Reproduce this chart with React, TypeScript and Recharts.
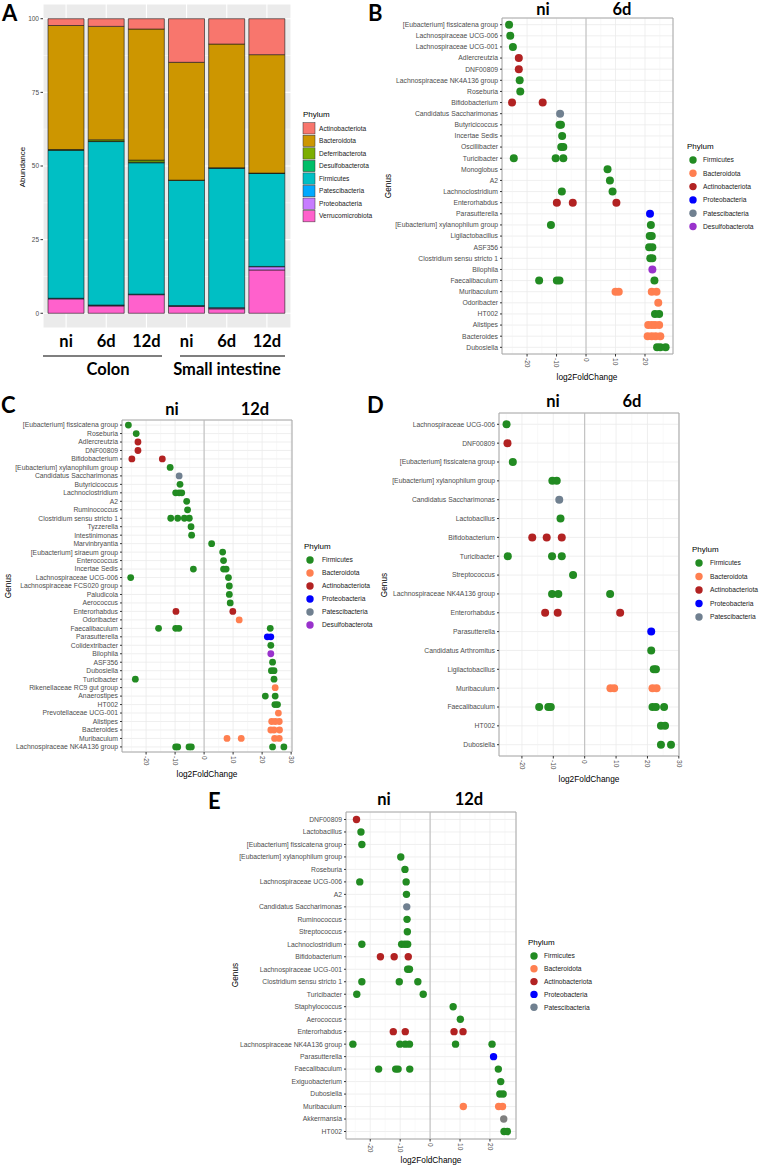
import { BarChart, Bar, XAxis, YAxis, CartesianGrid, ScatterChart, Scatter, ReferenceLine, ReferenceArea } from 'recharts';

const FONT = '"Liberation Sans", Arial, sans-serif';
const BOLD = 'Lato, "Open Sans", sans-serif';

// ---------- panel A: relative abundance (%), one array per phylum
const samples = ['Colon ni', 'Colon 6d', 'Colon 12d', 'SI ni', 'SI 6d', 'SI 12d'];
const sampleLabels = ['ni', '6d', '12d', 'ni', '6d', '12d'];
const verrucomicrobiota = [4.9, 2.5, 6.3, 2.4, 1.5, 14.7];
const proteobacteria = [0.1, 0.2, 0.1, 0.1, 0.3, 1.1];
const patescibacteria = [0.1, 0.1, 0.1, 0.1, 0.1, 0.1];
const firmicutes = [50.2, 55.5, 44.6, 42.5, 47.4, 31.6];
const desulfobacterota = [0.2, 0.1, 0.2, 0.05, 0.05, 0.05];
const deferribacterota = [0.1, 0.5, 0.7, 0.05, 0.05, 0.05];
const bacteroidota = [42.1, 38.5, 44.5, 40.0, 42.0, 40.2];
const actinobacteriota = [2.3, 2.6, 3.5, 14.8, 8.6, 12.2];

// bottom -> top of the stack
const stackOrder = ['Verrucomicrobiota', 'Proteobacteria', 'Patescibacteria', 'Firmicutes', 'Desulfobacterota', 'Deferribacterota', 'Bacteroidota', 'Actinobacteriota'];
const abundance: Record<string, number[]> = {
  Verrucomicrobiota: verrucomicrobiota,
  Proteobacteria: proteobacteria,
  Patescibacteria: patescibacteria,
  Firmicutes: firmicutes,
  Desulfobacterota: desulfobacterota,
  Deferribacterota: deferribacterota,
  Bacteroidota: bacteroidota,
  Actinobacteriota: actinobacteriota,
};
const barFill: Record<string, string> = {
  Actinobacteriota: '#F8766D',
  Bacteroidota: '#CD9600',
  Deferribacterota: '#7CAE00',
  Desulfobacterota: '#00BE67',
  Firmicutes: '#00BFC4',
  Patescibacteria: '#00A9FF',
  Proteobacteria: '#C77CFF',
  Verrucomicrobiota: '#FF61CC',
};

// ---------- panels B-E: log2 fold change per genus
const FIR = 'Firmicutes';
const BAC = 'Bacteroidota';
const ACT = 'Actinobacteriota';
const PRO = 'Proteobacteria';
const PAT = 'Patescibacteria';
const DES = 'Desulfobacterota';
const VER = 'Verrucomicrobiota';

const dotFill: Record<string, string> = {
  Firmicutes: '#228B22',
  Bacteroidota: '#FF7F50',
  Actinobacteriota: '#B22222',
  Proteobacteria: '#0000FF',
  Patescibacteria: '#708090',
  Desulfobacterota: '#9932CC',
  Verrucomicrobiota: '#7F7F7F',
};
const legendSix = [FIR, BAC, ACT, PRO, PAT, DES];
const legendFive = [FIR, BAC, ACT, PRO, PAT];

type Pt = [string, string, number];

const genusB = ['[Eubacterium] fissicatena group', 'Lachnospiraceae UCG-006', 'Lachnospiraceae UCG-001', 'Adlercreutzia', 'DNF00809', 'Lachnospiraceae NK4A136 group', 'Roseburia', 'Bifidobacterium', 'Candidatus Saccharimonas', 'Butyricicoccus', 'Incertae Sedis', 'Oscillibacter', 'Turicibacter', 'Monoglobus', 'A2', 'Lachnoclostridium', 'Enterorhabdus', 'Parasutterella', '[Eubacterium] xylanophilum group', 'Ligilactobacillus', 'ASF356', 'Clostridium sensu stricto 1', 'Bilophila', 'Faecalibaculum', 'Muribaculum', 'Odoribacter', 'HT002', 'Alistipes', 'Bacteroides', 'Dubosiella'];
const pointsB: Pt[] = [
  ['[Eubacterium] fissicatena group', FIR, -26.1],
  ['Lachnospiraceae UCG-006', FIR, -25.7],
  ['Lachnospiraceae UCG-001', FIR, -24.8],
  ['Adlercreutzia', ACT, -22.8],
  ['DNF00809', ACT, -22.8],
  ['Lachnospiraceae NK4A136 group', FIR, -22.5],
  ['Roseburia', FIR, -22.3],
  ['Bifidobacterium', ACT, -25.1], ['Bifidobacterium', ACT, -14.7],
  ['Candidatus Saccharimonas', PAT, -8.8],
  ['Butyricicoccus', FIR, -9.0], ['Butyricicoccus', FIR, -8.5],
  ['Incertae Sedis', FIR, -8.1],
  ['Oscillibacter', FIR, -8.4], ['Oscillibacter', FIR, -7.7],
  ['Turicibacter', FIR, -24.5], ['Turicibacter', FIR, -10.3], ['Turicibacter', FIR, -7.7],
  ['Monoglobus', FIR, 7.3],
  ['A2', FIR, 8.1],
  ['Lachnoclostridium', FIR, -8.2], ['Lachnoclostridium', FIR, 9.0],
  ['Enterorhabdus', ACT, -9.9], ['Enterorhabdus', ACT, -4.5], ['Enterorhabdus', ACT, 10.3],
  ['Parasutterella', PRO, 21.7],
  ['[Eubacterium] xylanophilum group', FIR, -11.9], ['[Eubacterium] xylanophilum group', FIR, 22.0],
  ['Ligilactobacillus', FIR, 21.6], ['Ligilactobacillus', FIR, 22.3],
  ['ASF356', FIR, 21.4], ['ASF356', FIR, 22.5],
  ['Clostridium sensu stricto 1', FIR, 21.8], ['Clostridium sensu stricto 1', FIR, 22.5],
  ['Bilophila', DES, 22.5],
  ['Faecalibaculum', FIR, -15.9], ['Faecalibaculum', FIR, -9.9], ['Faecalibaculum', FIR, -9.0], ['Faecalibaculum', FIR, 23.2],
  ['Muribaculum', BAC, 10.0], ['Muribaculum', BAC, 11.1], ['Muribaculum', BAC, 22.3], ['Muribaculum', BAC, 23.9],
  ['Odoribacter', BAC, 24.5],
  ['HT002', FIR, 23.4], ['HT002', FIR, 24.8],
  ['Alistipes', BAC, 21.1], ['Alistipes', BAC, 22.3], ['Alistipes', BAC, 23.4], ['Alistipes', BAC, 24.8],
  ['Bacteroides', BAC, 20.9], ['Bacteroides', BAC, 22.3], ['Bacteroides', BAC, 23.6], ['Bacteroides', BAC, 25.2],
  ['Dubosiella', FIR, 24.1], ['Dubosiella', FIR, 25.2], ['Dubosiella', FIR, 27.0],
];

const genusC = ['[Eubacterium] fissicatena group', 'Roseburia', 'Adlercreutzia', 'DNF00809', 'Bifidobacterium', '[Eubacterium] xylanophilum group', 'Candidatus Saccharimonas', 'Butyricicoccus', 'Lachnoclostridium', 'A2', 'Ruminococcus', 'Clostridium sensu stricto 1', 'Tyzzerella', 'Intestinimonas', 'Marvinbryantia', '[Eubacterium] siraeum group', 'Enterococcus', 'Incertae Sedis', 'Lachnospiraceae UCG-006', 'Lachnospiraceae FCS020 group', 'Paludicola', 'Aerococcus', 'Enterorhabdus', 'Odoribacter', 'Faecalibaculum', 'Parasutterella', 'Colidextribacter', 'Bilophila', 'ASF356', 'Dubosiella', 'Turicibacter', 'Rikenellaceae RC9 gut group', 'Anaerostipes', 'HT002', 'Prevotellaceae UCG-001', 'Alistipes', 'Bacteroides', 'Muribaculum', 'Lachnospiraceae NK4A136 group'];
const pointsC: Pt[] = [
  ['[Eubacterium] fissicatena group', FIR, -26.1],
  ['Roseburia', FIR, -23.4],
  ['Adlercreutzia', ACT, -22.8],
  ['DNF00809', ACT, -22.8],
  ['Bifidobacterium', ACT, -24.9], ['Bifidobacterium', ACT, -14.4],
  ['[Eubacterium] xylanophilum group', FIR, -11.7],
  ['Candidatus Saccharimonas', PAT, -8.6],
  ['Butyricicoccus', FIR, -8.3],
  ['Lachnoclostridium', FIR, -9.8], ['Lachnoclostridium', FIR, -8.6], ['Lachnoclostridium', FIR, -7.7],
  ['A2', FIR, -6.0],
  ['Ruminococcus', FIR, -5.7],
  ['Clostridium sensu stricto 1', FIR, -11.5], ['Clostridium sensu stricto 1', FIR, -9.1], ['Clostridium sensu stricto 1', FIR, -6.8], ['Clostridium sensu stricto 1', FIR, -5.1],
  ['Tyzzerella', FIR, -4.5],
  ['Intestinimonas', FIR, -4.3],
  ['Marvinbryantia', FIR, 2.6],
  ['[Eubacterium] siraeum group', FIR, 6.4],
  ['Enterococcus', FIR, 6.7],
  ['Incertae Sedis', FIR, -3.7], ['Incertae Sedis', FIR, 6.7], ['Incertae Sedis', FIR, 7.6],
  ['Lachnospiraceae UCG-006', FIR, -25.3], ['Lachnospiraceae UCG-006', FIR, 8.4],
  ['Lachnospiraceae FCS020 group', FIR, 8.7],
  ['Paludicola', FIR, 8.7],
  ['Aerococcus', FIR, 9.0],
  ['Enterorhabdus', ACT, -9.7], ['Enterorhabdus', ACT, 9.9],
  ['Odoribacter', BAC, 12.1],
  ['Faecalibaculum', FIR, -15.7], ['Faecalibaculum', FIR, -9.8], ['Faecalibaculum', FIR, -8.7], ['Faecalibaculum', FIR, 22.8],
  ['Parasutterella', PRO, 21.8], ['Parasutterella', PRO, 23.0],
  ['Colidextribacter', FIR, 23.0],
  ['Bilophila', DES, 23.0],
  ['ASF356', FIR, 23.6],
  ['Dubosiella', FIR, 23.2], ['Dubosiella', FIR, 24.1],
  ['Turicibacter', FIR, -23.7], ['Turicibacter', FIR, 24.1],
  ['Rikenellaceae RC9 gut group', BAC, 24.5],
  ['Anaerostipes', FIR, 21.1], ['Anaerostipes', FIR, 24.5],
  ['HT002', FIR, 24.4], ['HT002', FIR, 25.3],
  ['Prevotellaceae UCG-001', BAC, 25.6],
  ['Alistipes', BAC, 23.3], ['Alistipes', BAC, 24.5], ['Alistipes', BAC, 25.9],
  ['Bacteroides', BAC, 23.0], ['Bacteroides', BAC, 24.1], ['Bacteroides', BAC, 26.0],
  ['Muribaculum', BAC, 7.9], ['Muribaculum', BAC, 12.8], ['Muribaculum', BAC, 24.3], ['Muribaculum', BAC, 25.9],
  ['Lachnospiraceae NK4A136 group', FIR, -9.8], ['Lachnospiraceae NK4A136 group', FIR, -9.1], ['Lachnospiraceae NK4A136 group', FIR, -5.2], ['Lachnospiraceae NK4A136 group', FIR, -4.4], ['Lachnospiraceae NK4A136 group', FIR, 23.6], ['Lachnospiraceae NK4A136 group', FIR, 27.5],
];

const genusD = ['Lachnospiraceae UCG-006', 'DNF00809', '[Eubacterium] fissicatena group', '[Eubacterium] xylanophilum group', 'Candidatus Saccharimonas', 'Lactobacillus', 'Bifidobacterium', 'Turicibacter', 'Streptococcus', 'Lachnospiraceae NK4A136 group', 'Enterorhabdus', 'Parasutterella', 'Candidatus Arthromitus', 'Ligilactobacillus', 'Muribaculum', 'Faecalibaculum', 'HT002', 'Dubosiella'];
const pointsD: Pt[] = [
  ['Lachnospiraceae UCG-006', FIR, -24.9],
  ['DNF00809', ACT, -24.6],
  ['[Eubacterium] fissicatena group', FIR, -22.9],
  ['[Eubacterium] xylanophilum group', FIR, -10.3], ['[Eubacterium] xylanophilum group', FIR, -8.9],
  ['Candidatus Saccharimonas', PAT, -8.1],
  ['Lactobacillus', FIR, -7.7],
  ['Bifidobacterium', ACT, -16.7], ['Bifidobacterium', ACT, -12.1], ['Bifidobacterium', ACT, -7.3],
  ['Turicibacter', FIR, -24.5], ['Turicibacter', FIR, -10.4], ['Turicibacter', FIR, -7.3],
  ['Streptococcus', FIR, -3.7],
  ['Lachnospiraceae NK4A136 group', FIR, -10.4], ['Lachnospiraceae NK4A136 group', FIR, -8.4], ['Lachnospiraceae NK4A136 group', FIR, 8.1],
  ['Enterorhabdus', ACT, -12.6], ['Enterorhabdus', ACT, -8.6], ['Enterorhabdus', ACT, 11.3],
  ['Parasutterella', PRO, 21.2],
  ['Candidatus Arthromitus', FIR, 21.2],
  ['Ligilactobacillus', FIR, 22.0], ['Ligilactobacillus', FIR, 22.7],
  ['Muribaculum', BAC, 8.2], ['Muribaculum', BAC, 9.4], ['Muribaculum', BAC, 21.6], ['Muribaculum', BAC, 22.9],
  ['Faecalibaculum', FIR, -14.5], ['Faecalibaculum', FIR, -11.6], ['Faecalibaculum', FIR, -10.8], ['Faecalibaculum', FIR, 21.6], ['Faecalibaculum', FIR, 22.7], ['Faecalibaculum', FIR, 25.3],
  ['HT002', FIR, 24.3], ['HT002', FIR, 25.6],
  ['Dubosiella', FIR, 24.3], ['Dubosiella', FIR, 27.5],
];

const genusE = ['DNF00809', 'Lactobacillus', '[Eubacterium] fissicatena group', '[Eubacterium] xylanophilum group', 'Roseburia', 'Lachnospiraceae UCG-006', 'A2', 'Candidatus Saccharimonas', 'Ruminococcus', 'Streptococcus', 'Lachnoclostridium', 'Bifidobacterium', 'Lachnospiraceae UCG-001', 'Clostridium sensu stricto 1', 'Turicibacter', 'Staphylococcus', 'Aerococcus', 'Enterorhabdus', 'Lachnospiraceae NK4A136 group', 'Parasutterella', 'Faecalibaculum', 'Exiguobacterium', 'Dubosiella', 'Muribaculum', 'Akkermansia', 'HT002'];
const pointsE: Pt[] = [
  ['DNF00809', ACT, -24.6],
  ['Lactobacillus', FIR, -23.1],
  ['[Eubacterium] fissicatena group', FIR, -22.8],
  ['[Eubacterium] xylanophilum group', FIR, -9.8],
  ['Roseburia', FIR, -8.4],
  ['Lachnospiraceae UCG-006', FIR, -23.5], ['Lachnospiraceae UCG-006', FIR, -8.0],
  ['A2', FIR, -7.9],
  ['Candidatus Saccharimonas', PAT, -7.8],
  ['Ruminococcus', FIR, -7.7],
  ['Streptococcus', FIR, -7.6],
  ['Lachnoclostridium', FIR, -22.8], ['Lachnoclostridium', FIR, -9.5], ['Lachnoclostridium', FIR, -8.4], ['Lachnoclostridium', FIR, -7.5],
  ['Bifidobacterium', ACT, -16.6], ['Bifidobacterium', ACT, -12.0], ['Bifidobacterium', ACT, -7.3],
  ['Lachnospiraceae UCG-001', FIR, -7.5], ['Lachnospiraceae UCG-001', FIR, -6.9],
  ['Clostridium sensu stricto 1', FIR, -22.8], ['Clostridium sensu stricto 1', FIR, -10.3], ['Clostridium sensu stricto 1', FIR, -4.1],
  ['Turicibacter', FIR, -24.5], ['Turicibacter', FIR, -2.3],
  ['Staphylococcus', FIR, 7.7],
  ['Aerococcus', FIR, 10.1],
  ['Enterorhabdus', ACT, -12.3], ['Enterorhabdus', ACT, -8.3], ['Enterorhabdus', ACT, 8.0], ['Enterorhabdus', ACT, 11.0],
  ['Lachnospiraceae NK4A136 group', FIR, -25.8], ['Lachnospiraceae NK4A136 group', FIR, -10.1], ['Lachnospiraceae NK4A136 group', FIR, -8.3], ['Lachnospiraceae NK4A136 group', FIR, -6.9], ['Lachnospiraceae NK4A136 group', FIR, 8.5], ['Lachnospiraceae NK4A136 group', FIR, 20.7],
  ['Parasutterella', PRO, 21.2],
  ['Faecalibaculum', FIR, -17.2], ['Faecalibaculum', FIR, -11.5], ['Faecalibaculum', FIR, -10.7], ['Faecalibaculum', FIR, -6.8], ['Faecalibaculum', FIR, 22.8],
  ['Exiguobacterium', FIR, 23.6],
  ['Dubosiella', FIR, 23.3], ['Dubosiella', FIR, 24.4],
  ['Muribaculum', BAC, 11.1], ['Muribaculum', BAC, 22.9], ['Muribaculum', BAC, 24.2],
  ['Akkermansia', VER, 24.6],
  ['HT002', FIR, 24.7], ['HT002', FIR, 25.8],
];

const rotTick = (props: any) => {
  const { x, y, payload } = props;
  return (
    <text x={x} y={y} transform={`rotate(90 ${x} ${y})`} dy="0.35em" textAnchor="start" fontSize={6.6} fill="#4D4D4D" fontFamily={FONT}>
      {payload.value}
    </text>
  );
};

function DotPanel(props: any) {
  const { left, top, axisW, plotW, plotH, marginTop, genera, points, domain, ticks, minor, r } = props;
  const n = genera.length;
  const phyla = [FIR, BAC, ACT, PRO, PAT, DES, VER];
  const series = phyla
    .map((ph) => ({
      ph,
      data: points.filter((p: Pt) => p[1] === ph).map((p: Pt) => ({ lfc: p[2], row: genera.indexOf(p[0]) })),
    }))
    .filter((s) => s.data.length > 0);
  const genusTick = (tp: any) => (
    <text x={tp.x} y={tp.y} dy="0.35em" textAnchor="end" fontSize={6.8} fill="#4D4D4D" fontFamily={FONT}>
      {genera[tp.payload.value]}
    </text>
  );
  return (
    <div style={{ position: 'absolute', left, top }}>
      <ScatterChart width={axisW + plotW + 10} height={marginTop + plotH + 22} margin={{ top: marginTop, right: 10, bottom: 0, left: 0 }}>
        <CartesianGrid stroke="#EBEBEB" strokeWidth={0.8} />
        <CartesianGrid stroke="#F3F3F3" strokeWidth={0.5} horizontal={false} verticalValues={minor} />
        <XAxis type="number" dataKey="lfc" domain={domain} ticks={ticks} allowDataOverflow height={22} axisLine={false} tickSize={2.5} tickMargin={1.5} tickLine={{ stroke: '#333' }} tick={rotTick} interval={0} />
        <YAxis
          type="number"
          dataKey="row"
          domain={[-0.6, n - 0.4]}
          reversed
          ticks={genera.map((_: string, i: number) => i)}
          width={axisW}
          axisLine={false}
          tickSize={2}
          tickMargin={2}
          tickLine={{ stroke: '#333' }}
          interval={0}
          tick={genusTick}
        />
        <ReferenceLine x={0} stroke="#BBBBBB" strokeWidth={1} />
        <ReferenceArea x1={domain[0]} x2={domain[1]} y1={-0.6} y2={n - 0.4} fill="none" stroke="#A8A8A8" strokeWidth={1} />
        {series.map((s) => (
          <Scatter
            key={s.ph}
            name={s.ph}
            data={s.data}
            fill={dotFill[s.ph]}
            isAnimationActive={false}
            shape={(p: any) => <circle cx={p.cx} cy={p.cy} r={r} fill={dotFill[s.ph]} />}
          />
        ))}
      </ScatterChart>
    </div>
  );
}

const barData = samples.map((s, i) => {
  const row: Record<string, any> = { sample: s };
  stackOrder.forEach((p) => (row[p] = abundance[p][i]));
  return row;
});

const bigTick = (props: any) => {
  const { x, y, payload } = props;
  return (
    <text x={x} y={y} dy={19} textAnchor="middle" fontFamily={BOLD} fontWeight={700} fontSize={16.5} fill="#000">
      {sampleLabels[samples.indexOf(payload.value)]}
    </text>
  );
};

function DotLegend({ x, y, stride, cx, tx, phyla }: any) {
  return (
    <g fontFamily={FONT}>
      <text x={x} y={y} dy="0.35em" fontSize={8} fill="#000">Phylum</text>
      {phyla.map((ph: string, i: number) => (
        <g key={ph}>
          <circle cx={cx} cy={y + 14 + i * stride} r={3.7} fill={dotFill[ph]} />
          <text x={tx} y={y + 14 + i * stride} dy="0.35em" fontSize={6.7} fill="#1A1A1A">{ph}</text>
        </g>
      ))}
    </g>
  );
}

function Header({ x1, x2, y, a, b }: any) {
  return (
    <g fontFamily={BOLD} fontWeight={700} fontSize={16.5} fill="#000" textAnchor="middle">
      <text x={x1} y={y}>{a}</text>
      <text x={x2} y={y}>{b}</text>
    </g>
  );
}

export default function App() {
  const legendA = [...stackOrder].reverse();
  return (
    <div style={{ position: 'absolute', left: 0, top: 0, width: 762, height: 1166, background: '#fff', overflow: 'hidden', fontFamily: FONT }}>
      {/* A */}
      <div style={{ position: 'absolute', left: 0, top: 0 }}>
        <BarChart width={300} height={358} data={barData} margin={{ top: 4, right: 9, left: 0, bottom: 0 }} barSize={36}>
          <CartesianGrid fill="#EBEBEB" stroke="#FFFFFF" strokeWidth={1.1} />
          <CartesianGrid stroke="#FFFFFF" strokeWidth={0.5} vertical={false} horizontalValues={[12.5, 37.5, 62.5, 87.5]} />
          <XAxis dataKey="sample" tick={bigTick} axisLine={false} tickLine={false} tickSize={0} tickMargin={0} height={30} padding={{ left: 3, right: 4 }} interval={0} />
          <YAxis domain={[-5, 105]} ticks={[0, 25, 50, 75, 100]} width={43} axisLine={false} tickSize={2.5} tickMargin={1.5} tickLine={{ stroke: '#333' }} tick={{ fontSize: 6.5, fill: '#4D4D4D', fontFamily: FONT }} />
          {stackOrder.map((p) => (
            <Bar key={p} dataKey={p} stackId="a" fill={barFill[p]} stroke="#1A1A1A" strokeWidth={0.6} isAnimationActive={false} />
          ))}
        </BarChart>
      </div>

      <DotPanel left={380} top={0} axisW={122} plotW={171} plotH={336} marginTop={18} genera={genusB} points={pointsB} domain={[-28.5, 29.5]} ticks={[-20, -10, 0, 10, 20]} minor={[-25, -15, -5, 5, 15, 25]} r={4} />
      <DotPanel left={0} top={400} axisW={122} plotW={170} plotH={332} marginTop={20} genera={genusC} points={pointsC} domain={[-28.3, 30.3]} ticks={[-20, -10, 0, 10, 20, 30]} minor={[-25, -15, -5, 5, 15, 25]} r={3.4} />
      <DotPanel left={380} top={400} axisW={119} plotW={180} plotH={343} marginTop={13} genera={genusD} points={pointsD} domain={[-27.3, 30.05]} ticks={[-20, -10, 0, 10, 20, 30]} minor={[-25, -15, -5, 5, 15, 25]} r={4} />
      <DotPanel left={170} top={800} axisW={176} plotW={170} plotH={327} marginTop={12} genera={genusE} points={pointsE} domain={[-28.1, 28.7]} ticks={[-20, -10, 0, 10, 20]} minor={[-25, -15, -5, 5, 15, 25]} r={3.7} />

      <svg width={762} height={1166} style={{ position: 'absolute', left: 0, top: 0, pointerEvents: 'none' }}>
        {/* panel letters */}
        <g fontFamily={BOLD} fontWeight={700} fontSize={22} fill="#000">
          <text x={2} y={21}>A</text>
          <text x={368} y={21}>B</text>
          <text x={1} y={413}>C</text>
          <text x={367} y={413}>D</text>
          <text x={208} y={809}>E</text>
        </g>

        {/* A annotations */}
        <text transform="translate(22 167) rotate(-90)" textAnchor="middle" dy="0.35em" fontSize={8} fontFamily={FONT}>Abundance</text>
        <line x1={43} x2={162} y1={356} y2={356} stroke="#7F7F7F" strokeWidth={2} />
        <line x1={180} x2={285} y1={356} y2={356} stroke="#7F7F7F" strokeWidth={2} />
        <g fontFamily={BOLD} fontWeight={700} fontSize={16.5} textAnchor="middle">
          <text x={108} y={375}>Colon</text>
          <text x={227} y={375}>Small intestine</text>
        </g>
        <g fontFamily={FONT}>
          <text x={303} y={114} dy="0.35em" fontSize={8}>Phylum</text>
          {legendA.map((p, i) => (
            <g key={p}>
              <rect x={303} y={122.7 + i * 12.55} width={12} height={11.3} fill={barFill[p]} stroke="#333" strokeWidth={0.5} />
              <text x={319} y={128.3 + i * 12.55} dy="0.35em" fontSize={6.6} fill="#1A1A1A">{p}</text>
            </g>
          ))}
        </g>

        {/* headers */}
        <Header x1={543} x2={622} y={15} a="ni" b="6d" />
        <Header x1={172} x2={255} y={415} a="ni" b="12d" />
        <Header x1={553} x2={632} y={407} a="ni" b="6d" />
        <Header x1={384} x2={469} y={805} a="ni" b="12d" />

        {/* axis titles */}
        <g fontFamily={FONT} fontSize={8.3} fill="#000" textAnchor="middle">
          <text x={587} y={377} dy="0.35em">log2FoldChange</text>
          <text x={207} y={774} dy="0.35em">log2FoldChange</text>
          <text x={589} y={779} dy="0.35em">log2FoldChange</text>
          <text x={431} y={1160} dy="0.35em">log2FoldChange</text>
          <text transform="translate(388 186) rotate(-90)" dy="0.35em">Genus</text>
          <text transform="translate(8 586) rotate(-90)" dy="0.35em">Genus</text>
          <text transform="translate(384 585) rotate(-90)" dy="0.35em">Genus</text>
          <text transform="translate(235 975) rotate(-90)" dy="0.35em">Genus</text>
        </g>

        {/* dot legends */}
        <DotLegend x={687} y={146} stride={13.3} cx={693} tx={703} phyla={legendSix} />
        <DotLegend x={304} y={546} stride={13} cx={310} tx={322} phyla={legendSix} />
        <DotLegend x={692} y={549} stride={13.5} cx={699} tx={710} phyla={legendFive} />
        <DotLegend x={528} y={942} stride={12.8} cx={534} tx={544} phyla={legendFive} />
      </svg>
    </div>
  );
}
